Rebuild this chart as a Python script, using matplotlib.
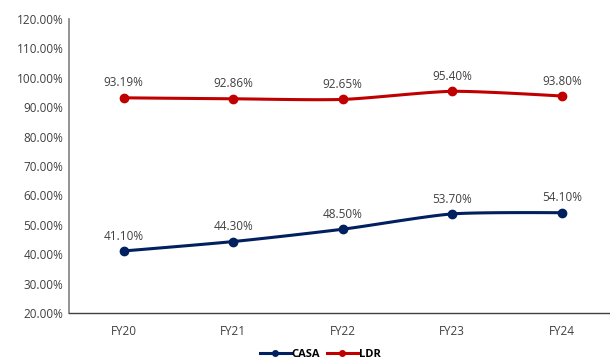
import numpy as np
import matplotlib.pyplot as plt
from matplotlib.ticker import FuncFormatter

years = ['FY20', 'FY21', 'FY22', 'FY23', 'FY24']
casa = [41.10, 44.30, 48.50, 53.70, 54.10]
ldr = [93.19, 92.86, 92.65, 95.40, 93.80]


def smooth(x, y, n=30, k=0.35):
    # gentle cardinal spline, roughly what excel's smoothed line does
    x = np.asarray(x, float)
    y = np.asarray(y, float)
    mx = np.gradient(x) * 2 * k
    my = np.gradient(y) * 2 * k
    mx[0] = mx[-1] = 0
    my[0] = my[-1] = 0
    xs, ys = [], []
    t = np.linspace(0, 1, n)
    h00 = 2*t**3 - 3*t**2 + 1
    h10 = t**3 - 2*t**2 + t
    h01 = -2*t**3 + 3*t**2
    h11 = t**3 - t**2
    for i in range(len(x)-1):
        xs.extend(h00*x[i] + h10*mx[i] + h01*x[i+1] + h11*mx[i+1])
        ys.extend(h00*y[i] + h10*my[i] + h01*y[i+1] + h11*my[i+1])
    return np.array(xs), np.array(ys)


plt.rcParams['font.family'] = ['Open Sans', 'DejaVu Sans']
fig = plt.figure(figsize=(6.1, 3.62), dpi=100)
ax = fig.add_axes([0.1131, 0.1354, 0.8869, 0.8121])

x = np.arange(len(years))
for vals, col, name in [(casa, '#002060', 'CASA'), (ldr, '#C00000', 'LDR')]:
    sx, sy = smooth(x, vals)
    ax.plot(sx, sy, color=col, lw=2.2, solid_capstyle='round')
    ax.plot(x, vals, 'o', color=col, ms=6)
    ax.plot([], [], '-o', color=col, lw=2.2, ms=4, label=name)
    for xi, v in zip(x, vals):
        ax.annotate('%.2f%%' % v, (xi, v), xytext=(0, 6), textcoords='offset points',
                    ha='center', va='bottom', fontsize=8.5, color='#404040')

ax.set_xlim(-0.5, 4.44)
ax.set_ylim(20, 120)
ax.set_yticks(np.arange(20, 121, 10))
ax.yaxis.set_major_formatter(FuncFormatter(lambda v, p: '%.2f%%' % v))
ax.set_xticks(x)
ax.set_xticklabels(years)
ax.tick_params(length=0, labelsize=8.5, colors='#404040')
ax.tick_params(axis='x', pad=9)
ax.tick_params(axis='y', pad=4)
for s in ['top', 'right']:
    ax.spines[s].set_visible(False)
ax.spines['left'].set_color('#808080')
ax.spines['left'].set_linewidth(1.2)
ax.spines['bottom'].set_color('#404040')
ax.spines['bottom'].set_linewidth(1.0)

leg = fig.legend(loc='center', bbox_to_anchor=(0.525, 0.02), ncol=2, frameon=False,
                 handlelength=2.8, columnspacing=0.6, handletextpad=0.1,
                 prop={'size': 8, 'weight': 'bold'})

fig.savefig('out.png', dpi=100)
